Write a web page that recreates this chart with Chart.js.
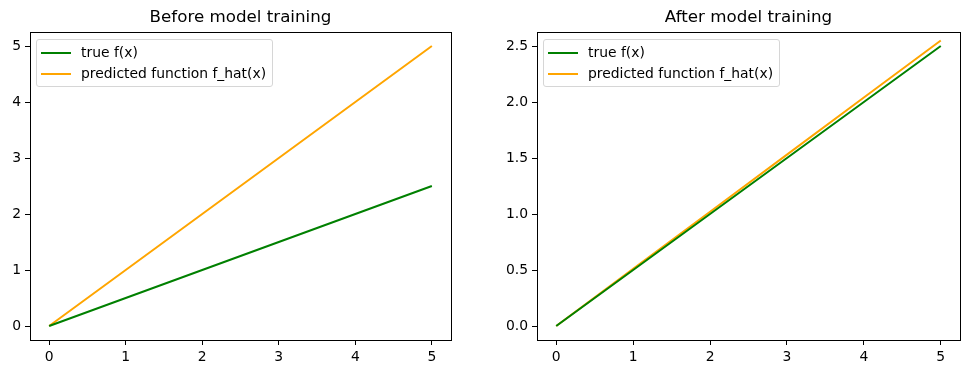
<!DOCTYPE html>
<html>
<head>
<meta charset="utf-8">
<script src="https://cdn.jsdelivr.net/npm/chart.js@4.4.0/dist/chart.umd.min.js"></script>
<style>
  body { margin: 0; background: #fff; }
  #wrap { position: relative; width: 968px; height: 374px; }
  .box { position: absolute; top: 0; width: 484px; height: 374px; }
  .legend {
    position: absolute; background: rgba(255,255,255,0.8);
    border: 1px solid #d6d6d6; border-radius: 3px;
    font-family: "DejaVu Sans", sans-serif; font-size: 13.9px; color: #000;
    padding: 2px 6px 2px 4px; line-height: 21px;
  }
  .legend .row { display: flex; align-items: center; white-space: nowrap; }
  .legend .sw { display: inline-block; width: 30px; height: 2px; margin-right: 10px; }
</style>
</head>
<body>
<div id="wrap">
  <div class="box" style="left:0"><canvas id="before"></canvas></div>
  <div class="box" style="left:484px"><canvas id="after"></canvas></div>
</div>
<script>
// x grid the functions are sampled on
const xValues = [0, 1, 2, 3, 4, 5]

// before training
const beforeTrue = [0, 0.5, 1.0, 1.5, 2.0, 2.5]
const beforePred = [0, 1, 2, 3, 4, 5]

// after training
const afterTrue = [0, 0.5, 1.0, 1.5, 2.0, 2.5]
const afterPred = [0, 0.51, 1.02, 1.53, 2.04, 2.55]

const xTicks = [0, 1, 2, 3, 4, 5]
const beforeYTicks = [0, 1, 2, 3, 4, 5]
const afterYTicks = [0, 0.5, 1.0, 1.5, 2.0, 2.5]

const seriesNames = ['true f(x)', 'predicted function f_hat(x)']
const seriesColors = ['#008000', '#ffa500']

const font = { family: 'DejaVu Sans', size: 13.9 }

// full box around the axes (matplotlib spines)
const frame = {
  id: 'frame',
  afterDraw(chart) {
    const a = chart.chartArea
    const c = chart.ctx
    c.save()
    c.strokeStyle = '#000'
    c.lineWidth = 1
    c.strokeRect(Math.round(a.left) + 0.5, Math.round(a.top) + 0.5, Math.round(a.right - a.left), Math.round(a.bottom - a.top))
    c.restore()
  }
}

function points(ys) {
  return xValues.map((x, i) => ({ x: x, y: ys[i] }))
}

function makeChart(id, title, trueVals, predVals, yTicks, yMin, yMax, yWidth, padRight, decimals) {
  const chart = new Chart(document.getElementById(id), {
    type: 'line',
    data: {
      datasets: [
        { label: seriesNames[0], data: points(trueVals), borderColor: seriesColors[0], backgroundColor: seriesColors[0], borderWidth: 2, pointRadius: 0, tension: 0 },
        { label: seriesNames[1], data: points(predVals), borderColor: seriesColors[1], backgroundColor: seriesColors[1], borderWidth: 2, pointRadius: 0, tension: 0 }
      ]
    },
    options: {
      responsive: true,
      maintainAspectRatio: false,
      animation: false,
      layout: { padding: { left: 0, right: padRight, top: 0, bottom: 0 } },
      plugins: {
        legend: { display: false },
        tooltip: { enabled: false },
        title: {
          display: true, text: title, fullSize: false, color: '#000',
          font: { family: 'DejaVu Sans', size: 16.7, weight: 'normal', lineHeight: 1.2 },
          padding: { top: 8, bottom: 4 }
        }
      },
      scales: {
        x: {
          type: 'linear', min: -0.25, max: 5.25,
          afterBuildTicks: s => { s.ticks = xTicks.map(v => ({ value: v })) },
          afterFit: s => { s.height = 34 },
          grid: { drawOnChartArea: false, drawTicks: true, tickLength: 5, color: '#000' },
          border: { display: false },
          ticks: { color: '#000', font: font, padding: 4, maxRotation: 0, callback: v => String(v) }
        },
        y: {
          type: 'linear', min: yMin, max: yMax,
          afterBuildTicks: s => { s.ticks = yTicks.map(v => ({ value: v })) },
          afterFit: s => { s.width = yWidth },
          grid: { drawOnChartArea: false, drawTicks: true, tickLength: 5, color: '#000' },
          border: { display: false },
          ticks: { color: '#000', font: font, padding: 4, callback: v => v.toFixed(decimals) }
        }
      }
    },
    plugins: [frame]
  })

  // legend inside the axes, upper left, like matplotlib
  const leg = document.createElement('div')
  leg.className = 'legend'
  chart.data.datasets.forEach(ds => {
    const row = document.createElement('div')
    row.className = 'row'
    const sw = document.createElement('span')
    sw.className = 'sw'
    sw.style.background = ds.borderColor
    row.appendChild(sw)
    row.appendChild(document.createTextNode(ds.label))
    leg.appendChild(row)
  })
  leg.style.left = (chart.chartArea.left + 6) + 'px'
  leg.style.top = (chart.chartArea.top + 7) + 'px'
  chart.canvas.parentNode.appendChild(leg)
  return chart
}

makeChart('before', 'Before model training', beforeTrue, beforePred, beforeYTicks, -0.25, 5.25, 30, 33, 0)
makeChart('after', 'After model training', afterTrue, afterPred, afterYTicks, -0.125, 2.625, 53, 8, 1)
</script>
</body>
</html>
